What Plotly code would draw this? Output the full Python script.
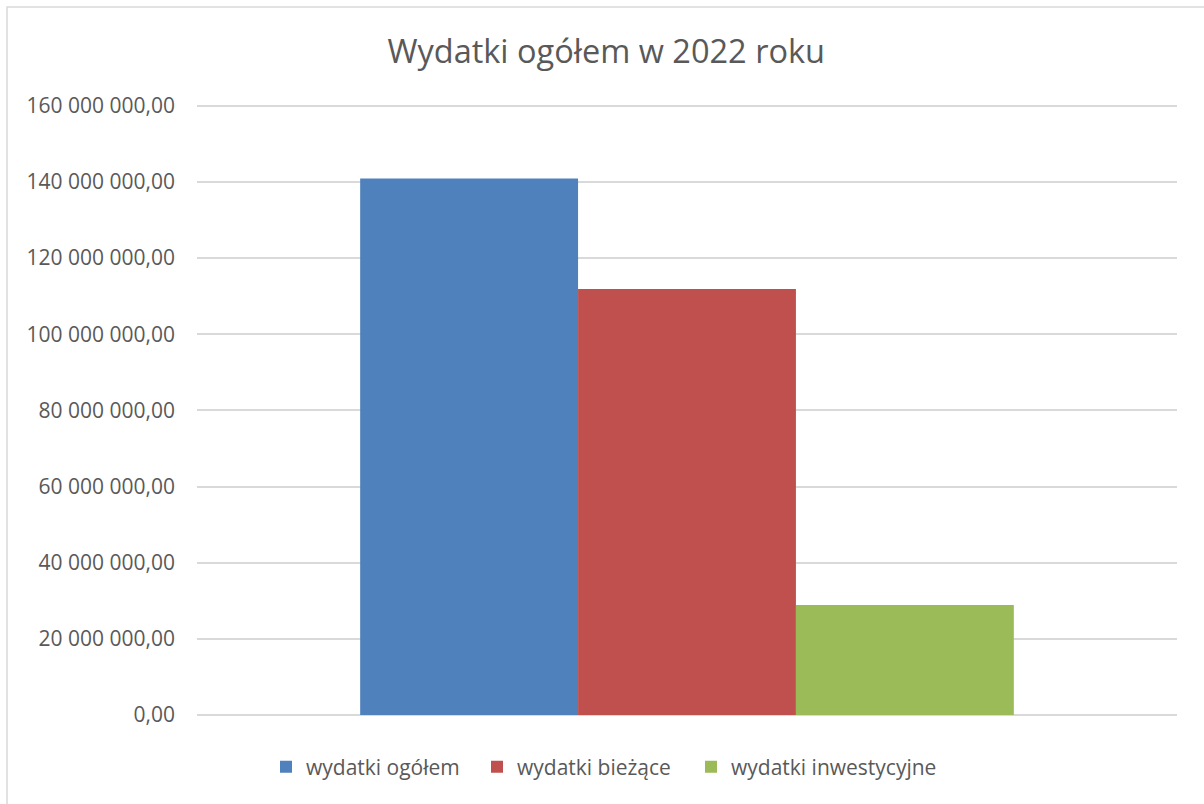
import plotly.graph_objects as go

series_names = ["wydatki ogółem", "wydatki bieżące", "wydatki inwestycyjne"]
series_values = [140_900_000, 111_900_000, 28_900_000]
series_colors = ["#4F81BD", "#C0504D", "#9BBB59"]
tick_values = [0, 20_000_000, 40_000_000, 60_000_000, 80_000_000, 100_000_000, 120_000_000, 140_000_000, 160_000_000]
tick_labels = ["0,00", "20 000 000,00", "40 000 000,00", "60 000 000,00", "80 000 000,00",
               "100 000 000,00", "120 000 000,00", "140 000 000,00", "160 000 000,00"]
category = ["2022"]

legend_ids = ["legend", "legend2", "legend3"]
legend_text_x = [306, 517, 731]  # screen px where each legend label starts

fig = go.Figure()
for name, val, col, lg in zip(series_names, series_values, series_colors, legend_ids):
    fig.add_trace(go.Bar(x=category, y=[val], name=name, legend=lg, showlegend=True,
                         marker=dict(color=col, line=dict(width=0))))

font_family = "Open Sans, Liberation Sans, sans-serif"
PH = 613  # plot height px
L = 197
PW = 980

def legend_style(text_x):
    return dict(orientation="h", x=(text_x - 40 - L) / PW, xanchor="left",
                y=-(767 - 715) / PH, yanchor="middle",
                font=dict(size=21, color="#595959"), itemwidth=30, bgcolor="rgba(0,0,0,0)")

fig.update_layout(
    width=1204, height=804, showlegend=True,
    barmode="group", bargap=0.333, bargroupgap=0,
    paper_bgcolor="white", plot_bgcolor="white",
    margin=dict(l=L, r=27, t=102, b=89),
    title=dict(text="Wydatki ogółem w 2022 roku", x=0.5035, xanchor="center",
               y=1 - 52 / 804, yanchor="middle",
               font=dict(family=font_family, size=32.5, color="#595959")),
    font=dict(family=font_family, color="#595959"),
    legend=legend_style(legend_text_x[0]),
    legend2=legend_style(legend_text_x[1]),
    legend3=legend_style(legend_text_x[2]),
    xaxis=dict(showticklabels=False, showgrid=False, zeroline=False, showline=False, range=[-0.5, 0.5]),
    yaxis=dict(range=[0, 161_000_000], tickvals=tick_values, ticktext=tick_labels,
               showgrid=True, gridcolor="#D9D9D9", gridwidth=1.5, zeroline=True,
               zerolinecolor="#D9D9D9", zerolinewidth=1.5, showline=False,
               ticks="", ticklabelstandoff=21, tickfont=dict(size=21, color="#595959")),
    shapes=[dict(type="rect", xref="paper", yref="paper",
                 x0=-190 / PW, x1=1 + 60 / PW, y0=-120 / PH, y1=1 + (102 - 7) / PH,
                 line=dict(color="#D9D9D9", width=1.5), fillcolor="rgba(0,0,0,0)", layer="below")],
)

fig.write_html("out.html", config={"displayModeBar": False},
               post_script="document.body.style.margin='0';document.body.style.overflow='hidden';")
